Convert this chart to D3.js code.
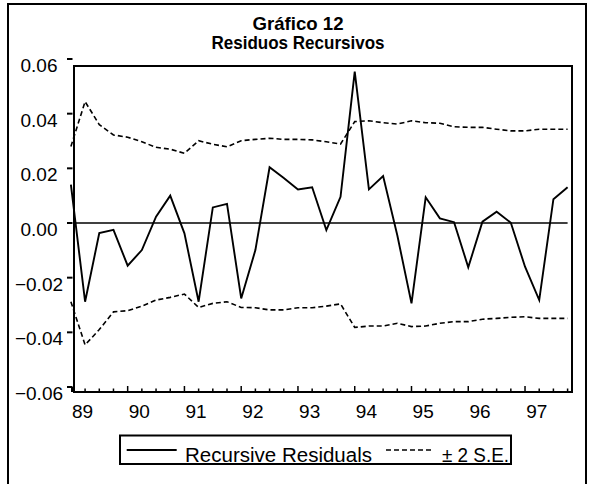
<!DOCTYPE html>
<html><head><meta charset="utf-8">
<script src="https://cdn.jsdelivr.net/npm/d3@7/dist/d3.min.js"></script>
<style>
html,body{margin:0;padding:0;background:#fff;}
svg{display:block;}
text{font-family:"Liberation Sans",Arial,sans-serif;fill:#000;}
</style></head>
<body>
<script>
// Quarterly observations 1988Q4 .. 1997Q3
const periods = ["88Q4","89Q1","89Q2","89Q3","89Q4","90Q1","90Q2","90Q3","90Q4","91Q1","91Q2","91Q3","91Q4",
  "92Q1","92Q2","92Q3","92Q4","93Q1","93Q2","93Q3","93Q4","94Q1","94Q2","94Q3","94Q4","95Q1","95Q2","95Q3","95Q4",
  "96Q1","96Q2","96Q3","96Q4","97Q1","97Q2","97Q3"];
const residuals = [0.014,-0.0288,-0.0037,-0.0025,-0.0156,-0.0099,0.0023,0.0100,-0.0038,-0.0288,0.0057,0.0070,-0.0276,
  -0.0099,0.0204,0.0165,0.0123,0.0131,-0.0026,0.0096,0.0554,0.0123,0.0172,-0.0045,-0.0294,0.0094,0.0017,0.0003,-0.0162,
  0.0005,0.0041,0.0001,-0.0160,-0.0282,0.0087,0.0131];
const upperSE = [0.028,0.0444,0.036,0.0322,0.0314,0.0297,0.0277,0.0270,0.0255,0.0301,0.0288,0.0279,0.0301,
  0.0306,0.0310,0.0306,0.0306,0.0304,0.0297,0.0289,0.0371,0.0374,0.0367,0.0362,0.0374,0.0367,0.0365,0.0352,0.0350,
  0.0350,0.0343,0.0337,0.0337,0.0343,0.0343,0.0343];
const lowerSE = [-0.0288,-0.0446,-0.039,-0.0325,-0.0321,-0.0304,-0.0282,-0.0272,-0.0260,-0.0309,-0.0294,-0.0288,-0.0309,
  -0.0310,-0.0318,-0.0318,-0.0310,-0.0310,-0.0304,-0.0296,-0.0382,-0.0377,-0.0377,-0.0367,-0.0379,-0.0377,-0.0367,-0.0361,-0.0361,
  -0.0352,-0.0349,-0.0345,-0.0343,-0.0349,-0.0349,-0.0349];
const yTicks = [0.06,0.04,0.02,0.00,-0.02,-0.04,-0.06];
const yearLabels = ["89","90","91","92","93","94","95","96","97"];
const titleLines = ["Gráfico 12","Residuos Recursivos"];
const legendLabels = ["Recursive Residuals","± 2 S.E."];

const W=595,H=484;
const svg=d3.select("body").append("svg").attr("width",W).attr("height",H);

// outer frame
svg.append("path").attr("d","M8,492 V4 H586 V492").attr("fill","none").attr("stroke","#000").attr("stroke-width",2);

const box={l:74,t:66,r:572,b:392};
const x=d3.scaleLinear().domain([0,35]).range([70.9,567.6]);
const y=d3.scaleLinear().domain([-0.06,0.06]).range([387,59]);

// title
const tf="'Liberation Sans Narrow','Liberation Sans',Arial,sans-serif";
svg.append("text").attr("x",298).attr("y",29.5).attr("text-anchor","middle")
  .style("font-family",tf).style("font-weight","bold")
  .style("font-size","19px").attr("textLength",91).attr("lengthAdjust","spacingAndGlyphs").text(titleLines[0]);
svg.append("text").attr("x",298).attr("y",49).attr("text-anchor","middle")
  .style("font-family",tf).style("font-weight","bold")
  .style("font-size","19px").attr("textLength",173).attr("lengthAdjust","spacingAndGlyphs").text(titleLines[1]);

// plot box
svg.append("rect").attr("x",box.l).attr("y",box.t).attr("width",box.r-box.l).attr("height",box.b-box.t)
  .attr("fill","none").attr("stroke","#000").attr("stroke-width",2);

// y ticks & labels
const yg=svg.append("g");
yTicks.forEach(v=>{
  yg.append("line").attr("x1",67).attr("x2",72.5).attr("y1",y(v)).attr("y2",y(v)).attr("stroke","#000").attr("stroke-width",2);
  yg.append("text").attr("x",39).attr("y",y(v)+13).attr("text-anchor","middle").style("font-size","19px").text(d3.format(".2f")(v));
});
yg.append("line").attr("x1",72).attr("x2",72).attr("y1",y(-0.06)).attr("y2",box.b).attr("stroke","#000").attr("stroke-width",2);

// x ticks
const xg=svg.append("g");
d3.range(1,36).forEach(i=>{
  const major=i%4===0;
  xg.append("line").attr("x1",x(i)).attr("x2",x(i)).attr("y1",box.b).attr("y2",box.b-(major?6:3.5))
    .attr("stroke","#000").attr("stroke-width",1.5);
});
yearLabels.forEach((lab,k)=>{
  xg.append("text").attr("x",x(1+4*k)-2.5).attr("y",418).attr("text-anchor","middle").style("font-size","19px").text(lab);
});

// zero line
svg.append("line").attr("x1",box.l).attr("x2",x(35)).attr("y1",y(0)).attr("y2",y(0)).attr("stroke","#000").attr("stroke-width",1.6);

const line=d3.line().x((d,i)=>x(i)).y(d=>y(d));
svg.append("path").attr("d",line(upperSE)).attr("fill","none").attr("stroke","#000").attr("stroke-width",1.6).attr("stroke-dasharray","5,3");
svg.append("path").attr("d",line(lowerSE)).attr("fill","none").attr("stroke","#000").attr("stroke-width",1.6).attr("stroke-dasharray","5,3");
svg.append("path").attr("d",line(residuals)).attr("fill","none").attr("stroke","#000").attr("stroke-width",1.9).attr("stroke-linejoin","miter");

// legend
const lg=svg.append("g");
lg.append("rect").attr("x",120).attr("y",435.5).attr("width",391).attr("height",28.5).attr("fill","#fff").attr("stroke","#000").attr("stroke-width",2);
lg.append("line").attr("x1",126.7).attr("x2",176.7).attr("y1",450).attr("y2",450).attr("stroke","#000").attr("stroke-width",1.8);
lg.append("text").attr("x",185).attr("y",461.5).style("font-size","20px").attr("textLength",187).attr("lengthAdjust","spacingAndGlyphs").text(legendLabels[0]);
lg.append("line").attr("x1",386).attr("x2",432).attr("y1",450).attr("y2",450).attr("stroke","#000").attr("stroke-width",1.5).attr("stroke-dasharray","5,3");
lg.append("text").attr("x",442).attr("y",461.5).style("font-size","20px").attr("textLength",67).attr("lengthAdjust","spacingAndGlyphs").text(legendLabels[1]);
</script>
</body></html>
